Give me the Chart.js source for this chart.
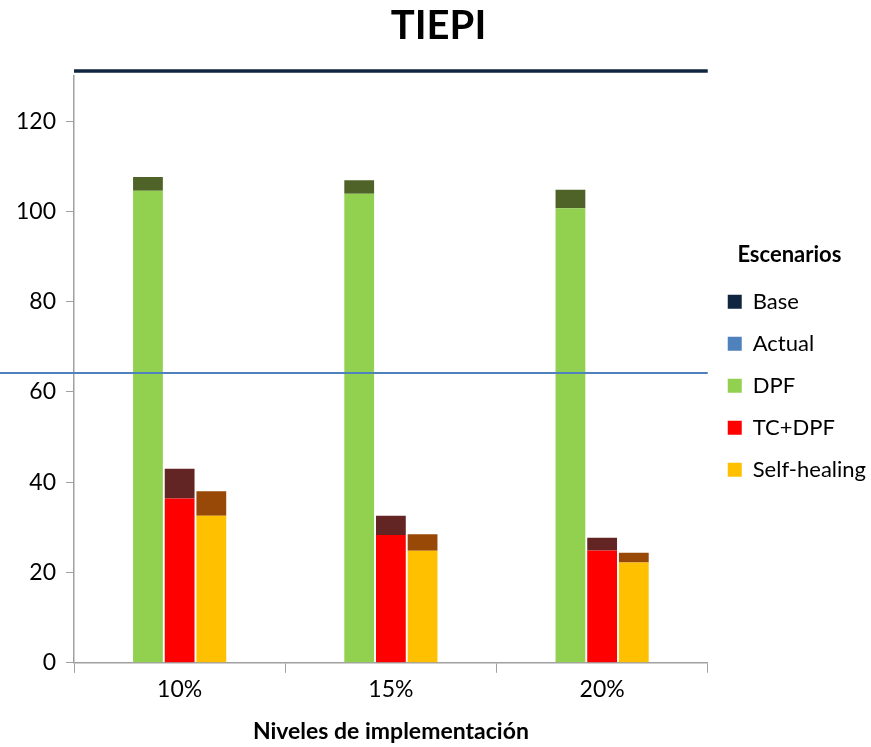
<!DOCTYPE html>
<html lang="es">
<head>
<meta charset="UTF-8">
<title>TIEPI</title>
<script src="https://cdn.jsdelivr.net/npm/chart.js"></script>
<style>
    body { margin: 0; padding: 0; background: #fff; }
    .wrap { width: 871px; height: 747px; position: relative; }
</style>
</head>
<body>
<div class="wrap"><canvas id="tiepi"></canvas></div>
<script>
// Datos
const niveles = ['10%', '15%', '20%'];
const dpf = [104.6, 103.9, 100.7];
const dpfExtra = [3.0, 3.0, 4.1];
const tcDpf = [36.4, 28.3, 24.9];
const tcDpfExtra = [6.6, 4.3, 2.8];
const selfHealing = [32.6, 24.8, 22.2];
const selfHealingExtra = [5.4, 3.7, 2.2];
const baseValue = 131.1;
const actualValue = 64.2;
const yTicks = [0, 20, 40, 60, 80, 100, 120];

const FONT = 'Lato, "Liberation Sans", sans-serif';

// lineas horizontales Base / Actual
const refLines = {
    id: 'refLines',
    afterDatasetsDraw(chart) {
        const ctx = chart.ctx;
        const y = chart.scales.y;
        const area = chart.chartArea;
        ctx.save();
        ctx.strokeStyle = '#4f81bd';
        ctx.lineWidth = 2;
        ctx.beginPath();
        ctx.moveTo(0, y.getPixelForValue(actualValue));
        ctx.lineTo(area.right, y.getPixelForValue(actualValue));
        ctx.stroke();
        ctx.strokeStyle = '#10253f';
        ctx.lineWidth = 3.5;
        ctx.beginPath();
        ctx.moveTo(area.left, y.getPixelForValue(baseValue));
        ctx.lineTo(area.right, y.getPixelForValue(baseValue));
        ctx.stroke();
        ctx.restore();
    }
};

// la leyenda ocupa un poco menos de ancho
const narrowLegend = {
    id: 'narrowLegend',
    beforeLayout(chart) {
        const lg = chart.legend;
        if (lg && !lg._patched) {
            const fit = lg.fit.bind(lg);
            lg.fit = function () { fit(); this.width -= 5; };
            lg._patched = true;
        }
    }
};

new Chart(document.getElementById('tiepi'), {
    type: 'bar',
    data: {
        labels: niveles,
        datasets: [
            { type: 'line', label: 'Base', data: [], backgroundColor: '#10253f', borderColor: '#10253f', borderWidth: 0 },
            { type: 'line', label: 'Actual', data: [], backgroundColor: '#4f81bd', borderColor: '#4f81bd', borderWidth: 0 },
            { label: 'DPF', data: dpf, backgroundColor: '#92d050', stack: 'a' },
            { label: 'dpfExtra', data: dpfExtra, backgroundColor: '#4f6228', stack: 'a' },
            { label: 'TC+DPF', data: tcDpf, backgroundColor: '#ff0000', stack: 'b' },
            { label: 'tcExtra', data: tcDpfExtra, backgroundColor: '#632523', stack: 'b' },
            { label: 'Self-healing', data: selfHealing, backgroundColor: '#ffc000', stack: 'c' },
            { label: 'shExtra', data: selfHealingExtra, backgroundColor: '#984807', stack: 'c' }
        ]
    },
    options: {
        responsive: true,
        maintainAspectRatio: false,
        animation: false,
        datasets: { bar: { categoryPercentage: 0.45, barPercentage: 0.94 } },
        layout: { padding: { top: 0, left: 6, right: 0, bottom: 2 } },
        plugins: {
            title: {
                display: true,
                text: 'TIEPI',
                color: '#000',
                font: { family: FONT, size: 40, weight: 'bold' },
                padding: { top: 2, bottom: 26 }
            },
            legend: {
                position: 'right',
                align: 'center',
                title: {
                    display: true,
                    text: 'Escenarios',
                    color: '#000',
                    font: { family: FONT, size: 22, weight: 'bold' },
                    padding: { top: 0, bottom: 0 }
                },
                labels: {
                    color: '#000',
                    font: { family: FONT, size: 22 },
                    boxWidth: 14,
                    boxHeight: 14,
                    padding: 20,
                    filter: item => !/Extra/.test(item.text)
                }
            },
            tooltip: { enabled: false }
        },
        scales: {
            x: {
                stacked: true,
                grid: { display: true, drawOnChartArea: false, offset: true, tickLength: 10, color: '#a0a0a0' },
                border: { color: '#a0a0a0', width: 1.5 },
                ticks: { color: '#000', font: { family: FONT, size: 23 }, padding: 3 },
                title: {
                    display: true,
                    text: 'Niveles de implementación',
                    color: '#000',
                    font: { family: FONT, size: 23, weight: 'bold' },
                    padding: { top: 11, bottom: 0 }
                }
            },
            y: {
                stacked: true,
                min: 0,
                max: 130,
                afterBuildTicks: axis => { axis.ticks = yTicks.map(v => ({ value: v })); },
                grid: { display: true, drawOnChartArea: false, tickLength: 8, color: '#a0a0a0' },
                border: { color: '#a0a0a0', width: 1.5 },
                ticks: { color: '#000', font: { family: FONT, size: 23 }, padding: 10 }
            }
        }
    },
    plugins: [refLines, narrowLegend]
});
</script>
</body>
</html>
